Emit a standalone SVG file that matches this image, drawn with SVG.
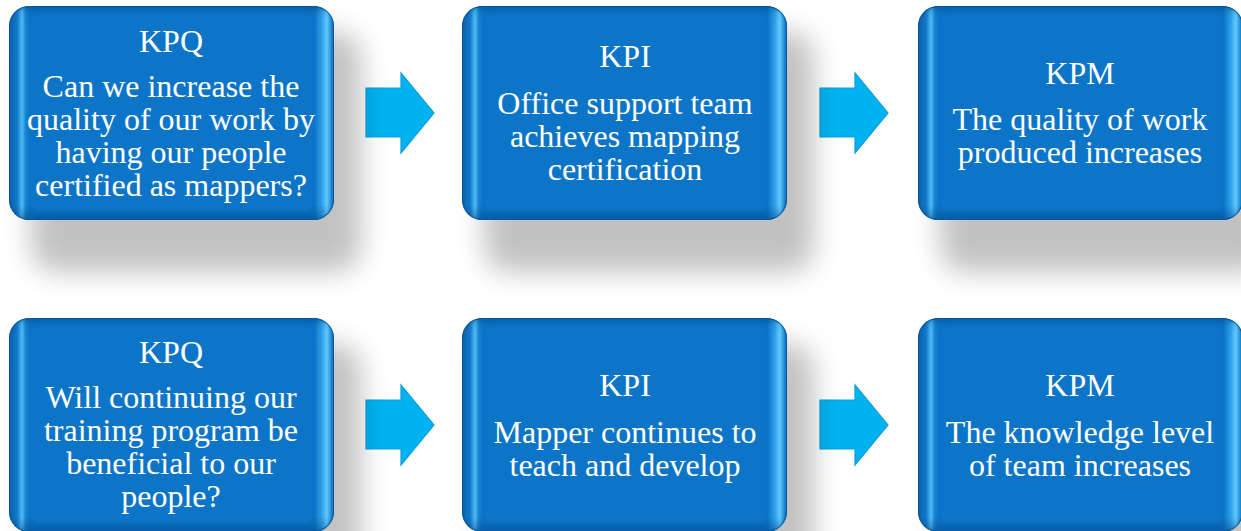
<svg xmlns="http://www.w3.org/2000/svg" width="1241" height="531" viewBox="0 0 1241 531">
  <defs>
    <linearGradient id="rimH" x1="0" y1="0" x2="1" y2="0">
      <stop offset="0" stop-color="#0a5ea8"/>
      <stop offset="0.025" stop-color="#1179c9"/>
      <stop offset="0.040" stop-color="#4fbcf6"/>
      <stop offset="0.052" stop-color="#1581d0"/>
      <stop offset="0.066" stop-color="#0b74c8"/>
      <stop offset="0.94" stop-color="#0b74c8"/>
      <stop offset="0.962" stop-color="#2e9fe8"/>
      <stop offset="0.978" stop-color="#62c9fc"/>
      <stop offset="0.992" stop-color="#2088d4"/>
      <stop offset="1" stop-color="#0a5ea8"/>
    </linearGradient>
    <linearGradient id="rimV" x1="0" y1="0" x2="0" y2="1">
      <stop offset="0" stop-color="#03417e" stop-opacity="0.45"/>
      <stop offset="0.03" stop-color="#03417e" stop-opacity="0.1"/>
      <stop offset="0.06" stop-color="#03417e" stop-opacity="0"/>
      <stop offset="0.93" stop-color="#03417e" stop-opacity="0"/>
      <stop offset="0.97" stop-color="#03417e" stop-opacity="0.25"/>
      <stop offset="1" stop-color="#03417e" stop-opacity="0.5"/>
    </linearGradient>
    <filter id="shadow" x="-30%" y="-30%" width="160%" height="160%">
      <feGaussianBlur stdDeviation="14"/>
    </filter>
    <filter id="soft" x="-10%" y="-10%" width="120%" height="120%">
      <feGaussianBlur stdDeviation="1.2"/>
    </filter>
    <g id="card">
      <rect x="22" y="26" width="330" height="240" rx="24" fill="#000" opacity="0.24" filter="url(#shadow)"/>
      <rect x="0" y="0" width="325" height="214" rx="20" fill="url(#rimH)"/>
      <rect x="0" y="0" width="325" height="214" rx="20" fill="url(#rimV)"/>
      <rect x="0.5" y="0.5" width="324" height="213" rx="20" fill="none" stroke="#0a5699" stroke-width="1"/>
      <rect x="22" y="9" width="282" height="196" rx="8" fill="#0b74c8" filter="url(#soft)"/>
    </g>
    <polygon id="arrowShape" points="0,15 35,15 35,0 68,40 35,80 35,64 0,64"/>
  </defs>

  <style>
    .lbl { font-size: 32px; fill: #ffffff; text-anchor: middle; }
    .arrow { fill: #00b3f0; stroke: #0b9fdc; stroke-width: 1.2; stroke-linejoin: miter; }
  </style>

  <rect width="1241" height="531" fill="#ffffff"/>

  <!-- connectors: block arrows between the cards -->
  <g id="connectors">
    <use href="#arrowShape" class="arrow" x="366" y="73"/>
    <use href="#arrowShape" class="arrow" x="820" y="73"/>
    <use href="#arrowShape" class="arrow" x="366" y="385"/>
    <use href="#arrowShape" class="arrow" x="820" y="385"/>
  </g>

  <g font-family="'Liberation Serif', 'Times New Roman', 'DejaVu Serif', serif">
    <!-- top row -->
    <g id="kpq-certified">
      <use href="#card" x="9" y="6"/>
      <text class="lbl" x="171" y="52">KPQ</text>
      <text class="lbl" x="171" y="97">Can we increase the</text>
      <text class="lbl" x="171" y="130">quality of our work by</text>
      <text class="lbl" x="171" y="163">having our people</text>
      <text class="lbl" x="171" y="196">certified as mappers?</text>
    </g>

    <g id="kpi-certification">
      <use href="#card" x="462" y="6"/>
      <text class="lbl" x="625" y="67">KPI</text>
      <text class="lbl" x="625" y="114">Office support team</text>
      <text class="lbl" x="625" y="147">achieves mapping</text>
      <text class="lbl" x="625" y="180">certification</text>
    </g>

    <g id="kpm-quality">
      <use href="#card" x="918" y="6"/>
      <text class="lbl" x="1080" y="84">KPM</text>
      <text class="lbl" x="1080" y="130">The quality of work</text>
      <text class="lbl" x="1080" y="163">produced increases</text>
    </g>

    <!-- bottom row -->
    <g id="kpq-training">
      <use href="#card" x="9" y="318"/>
      <text class="lbl" x="171" y="363">KPQ</text>
      <text class="lbl" x="171" y="408">Will continuing our</text>
      <text class="lbl" x="171" y="441">training program be</text>
      <text class="lbl" x="171" y="474">beneficial to our</text>
      <text class="lbl" x="171" y="507">people?</text>
    </g>

    <g id="kpi-teaching">
      <use href="#card" x="462" y="318"/>
      <text class="lbl" x="625" y="396">KPI</text>
      <text class="lbl" x="625" y="443">Mapper continues to</text>
      <text class="lbl" x="625" y="476">teach and develop</text>
    </g>

    <g id="kpm-knowledge">
      <use href="#card" x="918" y="318"/>
      <text class="lbl" x="1080" y="396">KPM</text>
      <text class="lbl" x="1080" y="443">The knowledge level</text>
      <text class="lbl" x="1080" y="476">of team increases</text>
    </g>
  </g>
</svg>
